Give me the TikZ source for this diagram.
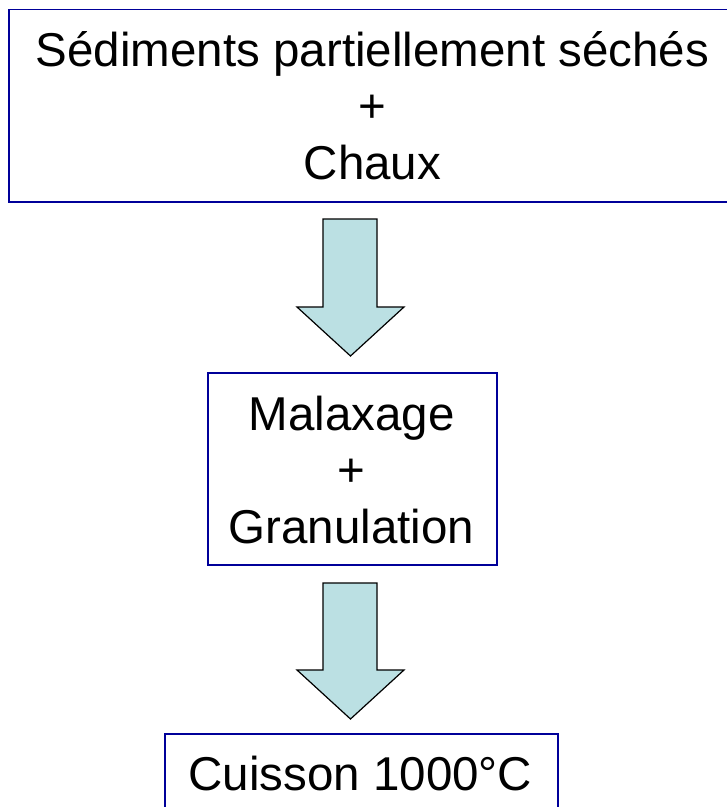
\documentclass[tikz,border=0pt]{standalone}
\usepackage{fontspec}
\setmainfont{Liberation Sans}
\definecolor{boxblue}{RGB}{0,0,153}
\definecolor{arrowfill}{RGB}{187,224,227}
\begin{document}
\begin{tikzpicture}[x=1pt,y=-1pt,
  procbox/.style={draw=boxblue,line width=1.6pt,inner sep=0pt,anchor=north west},
  lbl/.style={anchor=base,inner sep=0pt,font=\fontsize{47.5}{56.5}\selectfont},
  blockarrow/.style={draw=black,line width=1.2pt,fill=arrowfill,line join=miter}]
\useasboundingbox (0,0) rectangle (727,807);
\clip (0,0) rectangle (727,807);
% boxes
\node[procbox,minimum width=745pt,minimum height=192.5pt] (b1) at (8,8.5) {};
\node[procbox,minimum width=289pt,minimum height=192pt] (b2) at (207,372) {};
\node[procbox,minimum width=393pt,minimum height=120pt] (b3) at (164,733) {};
% texts
\node[lbl] (t1a) at (372.5,66) {Sédiments partiellement séchés};
\node[lbl] (t1b) at (372.5,122.5) {+};
\node[lbl] (t1c) at (372.5,179) {Chaux};
\node[lbl] (t2a) at (351.5,430) {Malaxage};
\node[lbl] (t2b) at (351.5,486.5) {+};
\node[lbl] (t2c) at (351.5,543) {Granulation};
\node[lbl] (t3a) at (360.5,790) {Cuisson 1000°C};
% block arrows
\draw[blockarrow] (323,219) -- (377,219) -- (377,307) -- (404,307) -- (350.5,356) -- (297,307) -- (323,307) -- cycle;
\draw[blockarrow] (323,583) -- (377,583) -- (377,670) -- (404,670) -- (350.5,719) -- (297,670) -- (323,670) -- cycle;
\end{tikzpicture}
\end{document}
